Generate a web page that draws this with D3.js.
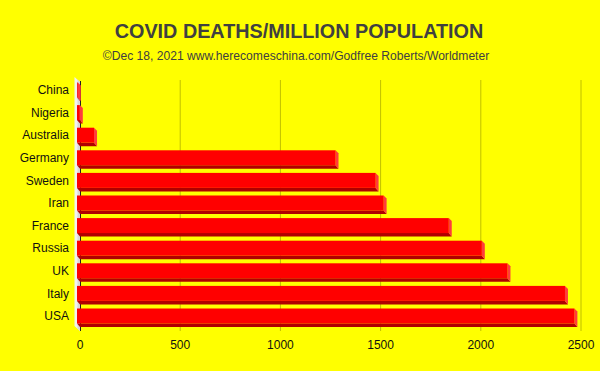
<!DOCTYPE html>
<html><head><meta charset="utf-8">
<script src="https://cdn.jsdelivr.net/npm/d3@7"></script>
<style>html,body{margin:0;padding:0;background:#ffff00;}svg{display:block;}</style>
</head><body>
<script>
const categories = ["China","Nigeria","Australia","Germany","Sweden","Iran","France","Russia","UK","Italy","USA"];
const deathsPerMillion = [4, 14, 85, 1290, 1490, 1530, 1855, 2020, 2148, 2435, 2482];
const tickValues = [0, 500, 1000, 1500, 2000, 2500];
const title = "COVID DEATHS/MILLION POPULATION";
const subtitle = "\u00A9Dec 18, 2021 www.herecomeschina.com/Godfree Roberts/Worldmeter";

const W = 600, H = 371;
const svg = d3.select("body").append("svg").attr("width", W).attr("height", H);
svg.append("rect").attr("width", W).attr("height", H).attr("fill", "#ffff00");

const x = d3.scaleLinear().domain([0, 2500]).range([80, 581]);
const y = d3.scaleBand().domain(categories).range([78.5, 327.1]).padding(0);
const depth = 3, barH = 15, font = "Liberation Sans, Arial, sans-serif";

// title
svg.append("text").attr("x", 299).attr("y", 38).attr("text-anchor", "middle")
  .attr("font-family", font).attr("font-weight", "bold").attr("font-size", 19.8)
  .attr("fill", "#404040").text(title);
svg.append("text").attr("x", 296).attr("y", 60).attr("text-anchor", "middle")
  .attr("font-family", font).attr("font-size", 12.1)
  .attr("fill", "#404040").text(subtitle);

// left wall
svg.append("polygon").attr("points", "74.5,77 80,82 80,331 74.5,326").attr("fill", "#f2f2f2");
svg.append("polygon").attr("points", "77.5,79.5 80,82 80,331 77.5,328.5").attr("fill", "#d8d8d8");

// gridlines
svg.append("g").selectAll("line").data(tickValues.filter(t => t > 0)).join("line")
  .attr("x1", d => x(d)).attr("x2", d => x(d)).attr("y1", 80).attr("y2", 331)
  .attr("stroke", "#c0c000").attr("stroke-width", 1);

// axis line
svg.append("line").attr("x1", 80.5).attr("x2", 80.5).attr("y1", 81).attr("y2", 331)
  .attr("stroke", "#202020").attr("stroke-width", 1);

// x tick labels
svg.append("g").selectAll("text").data(tickValues).join("text")
  .attr("x", d => x(d)).attr("y", 349).attr("text-anchor", "middle")
  .attr("font-family", font).attr("font-size", 12).attr("fill", "#111")
  .text(d => d);

// bars
const bars = svg.append("g").selectAll("g").data(categories).join("g");
bars.each(function(c, i) {
  const g = d3.select(this);
  const x0 = x(0) - depth, x1 = x(deathsPerMillion[i]) - depth;
  const y0 = y(c) + 4, y1 = y0 + barH;
  g.append("polygon").attr("points", `${x0},${y1} ${x1},${y1} ${x1+depth},${y1+depth+0.5} ${x0+depth},${y1+depth+0.5}`)
    .attr("fill", "#b00000");
  g.append("polygon").attr("points", `${x1},${y0} ${x1+depth},${y0+depth} ${x1+depth},${y1+depth+0.5} ${x1},${y1}`)
    .attr("fill", "#ff3c3c");
  g.append("rect").attr("x", x0).attr("y", y0).attr("width", Math.max(0, x1 - x0)).attr("height", barH)
    .attr("fill", "#ff0000");
});

// category labels
svg.append("g").selectAll("text").data(categories).join("text")
  .attr("x", 69).attr("y", c => y(c) + 11.5).attr("dy", "0.35em").attr("text-anchor", "end")
  .attr("font-family", font).attr("font-size", 12).attr("fill", "#111")
  .text(c => c);
</script>
</body></html>
